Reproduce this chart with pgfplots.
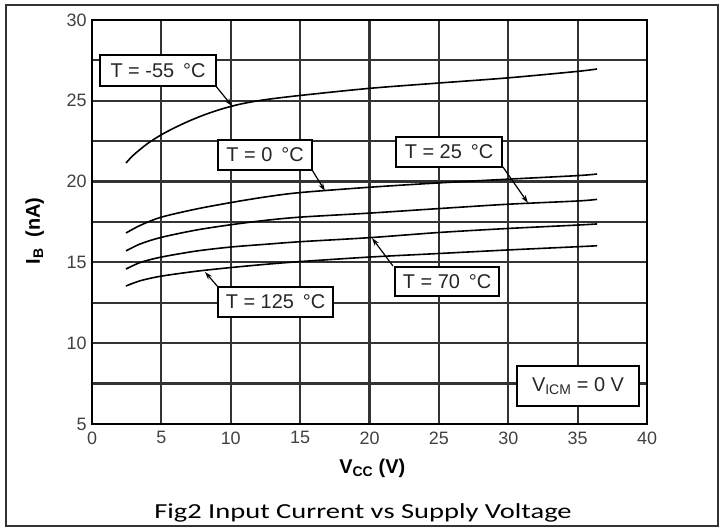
\documentclass[border=0pt]{standalone}
\usepackage{fontspec}
\setmainfont{Liberation Sans}
\newfontfamily\capfont{Carlito}
\usepackage{pgfplots}
\pgfplotsset{compat=1.18}
\usetikzlibrary{arrows.meta}
\begin{document}
\begin{tikzpicture}[x=1bp,y=1bp]
\useasboundingbox (-92,-103) rectangle (636,424);
\begin{axis}[
  name=ax,
  at={(0,0)}, anchor=south west,
  scale only axis, width=555bp, height=404bp,
  xmin=0, xmax=40, ymin=5, ymax=30,
  xtick={0,5,...,40}, ytick={5,10,...,30},
  minor y tick num=1,
  xmajorgrids, ymajorgrids, yminorgrids,
  major grid style={black!80, line width=2.2bp},
  minor grid style={black!80, line width=2.2bp},
  axis line style={black, line width=2bp},
  major tick length=0pt, minor tick length=0pt,
  /pgf/number format/assume math mode=true,
  ticklabel style={font=\fontsize{18}{20}\selectfont, text=black!75},
  xticklabel style={yshift=-4bp},
  yticklabel style={xshift=-2bp},
  xlabel={\textbf{V\textsubscript{CC} (V)}},
  ylabel={\textbf{I\textsubscript{B}\ \ (nA)}},
  label style={font=\fontsize{20}{22}\selectfont},
  xlabel style={at={(axis description cs:0.505,0)}, anchor=center, yshift=-44bp},
  ylabel style={at={(axis description cs:-0.103,0.478)}, anchor=center},
  clip=false,
]
% T = -55 C
\addplot[black, line width=1.6bp, smooth] coordinates {(2.45,21.15) (3,21.65) (4,22.35) (5,22.9) (6,23.35) (7,23.75) (8,24.1) (9,24.4) (10,24.65) (11,24.85) (12.5,25.07) (15,25.33) (20,25.77) (25,26.1) (30,26.42) (35,26.82) (36.4,26.97)};
% T = 0 C
\addplot[black, line width=1.6bp, smooth] coordinates {(2.45,16.82) (3.5,17.3) (5,17.8) (7.5,18.3) (10,18.7) (12.5,19.05) (15,19.32) (20,19.65) (25,19.92) (30,20.15) (35,20.37) (36.4,20.47)};
% T = 25 C
\addplot[black, line width=1.6bp, smooth] coordinates {(2.45,15.71) (3.5,16.15) (5,16.55) (7.5,17.0) (10,17.33) (12.5,17.6) (15,17.8) (20,18.05) (25,18.33) (30,18.6) (35,18.8) (36.4,18.9)};
% T = 70 C
\addplot[black, line width=1.6bp, smooth] coordinates {(2.45,14.59) (3.5,15.0) (5,15.33) (7.5,15.7) (10,15.95) (12.5,16.12) (15,16.28) (20,16.53) (25,16.85) (30,17.1) (35,17.31) (36.4,17.38)};
% T = 125 C
\addplot[black, line width=1.6bp, smooth] coordinates {(2.45,13.54) (3.5,13.87) (5,14.15) (7.5,14.45) (10,14.68) (12.5,14.88) (15,15.05) (20,15.33) (25,15.55) (30,15.77) (35,15.97) (36.4,16.03)};

\tikzset{lbl/.style={draw=black, line width=1.6bp, fill=white, inner sep=0pt, font=\fontsize{20}{22}\selectfont, text=black!85},
  arr/.style={black, line width=1.2bp, -{Stealth[length=8bp,width=5bp]}}}
\draw[arr] (axis cs:8.86,25.98) -- (axis cs:10.09,24.68);
\draw[arr] (axis cs:15.86,20.72) -- (axis cs:16.79,19.42);
\draw[arr] (axis cs:29.62,20.90) -- (axis cs:31.42,18.68);
\draw[arr] (axis cs:21.69,14.78) -- (axis cs:20.18,16.51);
\draw[arr] (axis cs:9.08,13.48) -- (axis cs:8.14,14.41);

\node[lbl, minimum width=116bp, minimum height=31bp] at (axis cs:4.76,26.88) {T = -55\hspace{0.45em}°C};
\node[lbl, minimum width=94bp, minimum height=30bp] at (axis cs:12.47,21.65) {T = 0\hspace{0.45em}°C};
\node[lbl, minimum width=106bp, minimum height=30bp] at (axis cs:25.73,21.83) {T = 25\hspace{0.45em}°C};
\node[lbl, minimum width=104bp, minimum height=29bp] at (axis cs:25.59,13.82) {T = 70\hspace{0.45em}°C};
\node[lbl, minimum width=115bp, minimum height=30bp] at (axis cs:13.23,12.55) {T = 125\hspace{0.45em}°C};
\node[lbl, minimum width=122bp, minimum height=40bp] at (axis cs:35.03,7.35) {V\textsubscript{ICM} = 0 V};
\end{axis}
\draw[black!80, line width=1.2bp] (-86,-102) rectangle (626,419);
\node[anchor=base, inner sep=0pt, font=\capfont\fontsize{21.5}{24}\selectfont] at (271,-95) {\scalebox{1.33}[1]{Fig2 Input Current vs Supply Voltage}};
\end{tikzpicture}
\end{document}
